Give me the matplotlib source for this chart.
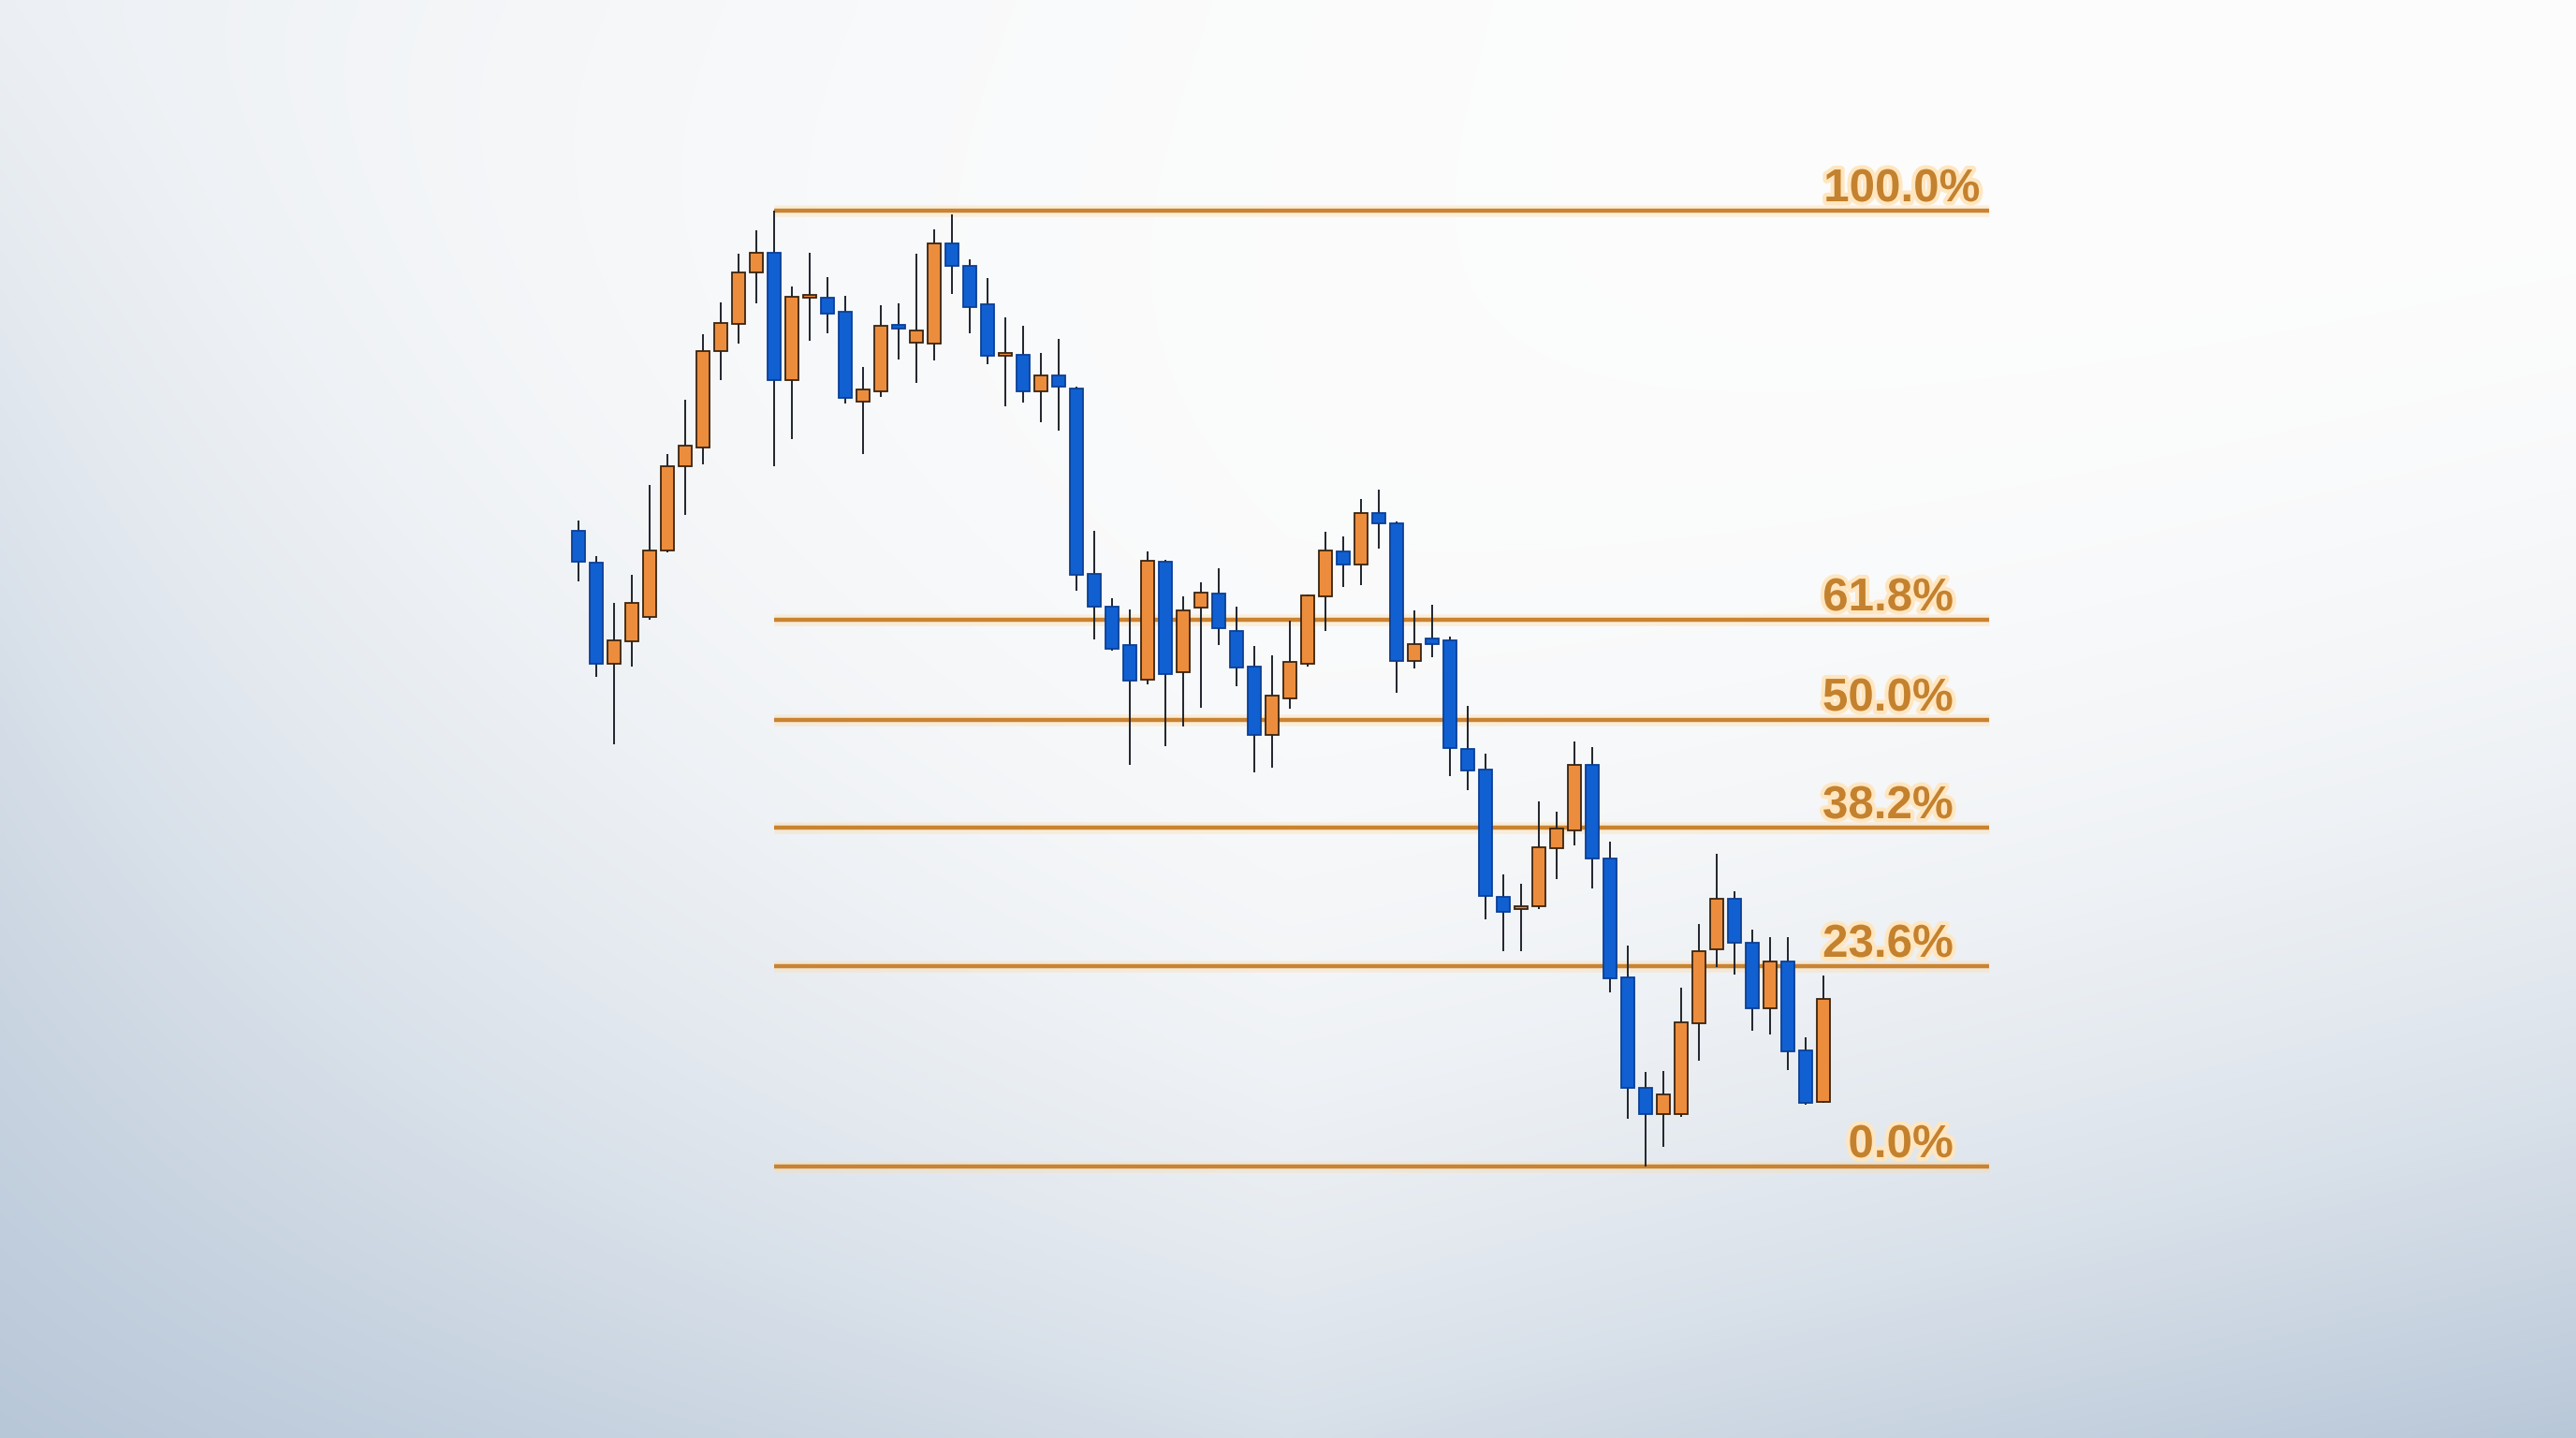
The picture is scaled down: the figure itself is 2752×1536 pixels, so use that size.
import numpy as np
import matplotlib.pyplot as plt
import matplotlib.patheffects as pe

# candle data (arbitrary price units), oldest first
opens = [96.9, 93.5, 82.7, 85.1, 87.7, 94.8, 103.8, 105.8, 116.1, 119.0,
         124.5, 126.6, 113.0, 121.8, 121.8, 120.3, 110.7, 111.8, 118.9, 117.0,
         116.9, 127.6, 125.2, 121.1, 115.6, 115.7, 111.8, 113.5, 112.1, 92.3,
         88.8, 84.7, 81.0, 93.6, 81.8, 88.7, 90.2, 86.2, 82.4, 75.1,
         79.0, 82.7, 89.9, 94.7, 93.3, 98.8, 97.7, 83.0, 85.4, 85.2,
         73.6, 71.4, 57.8, 56.5, 56.8, 63.0, 64.9, 71.9, 61.9, 49.2,
         37.4, 34.6, 34.6, 44.3, 52.2, 57.6, 52.9, 45.9, 50.9, 41.4,
         35.9]
highs = [98.0, 94.2, 89.2, 92.2, 101.8, 105.1, 110.9, 117.9, 121.3, 126.5,
         129.0, 131.1, 123.0, 126.6, 124.0, 122.0, 114.4, 121.0, 121.2, 126.5,
         129.1, 130.7, 125.9, 123.9, 119.7, 118.8, 115.9, 117.4, 112.3, 96.9,
         89.7, 88.5, 94.7, 93.8, 89.9, 91.4, 92.9, 88.8, 84.6, 83.6,
         87.3, 90.1, 96.8, 96.3, 100.3, 101.3, 97.9, 88.4, 89.0, 85.6,
         78.2, 73.1, 60.2, 59.2, 68.0, 66.9, 74.4, 73.8, 63.7, 52.6,
         39.1, 39.2, 48.1, 54.9, 62.4, 58.4, 54.3, 53.5, 53.5, 42.8,
         49.4]
lows = [91.5, 81.3, 74.1, 82.4, 87.4, 94.6, 98.6, 104.0, 113.0, 116.9,
        121.2, 103.8, 106.7, 117.2, 118.0, 110.5, 105.1, 111.2, 115.2, 112.7,
        115.1, 122.2, 118.0, 114.7, 110.2, 110.6, 108.5, 107.6, 90.5, 85.3,
        84.1, 71.9, 80.5, 73.9, 76.0, 78.0, 84.7, 80.3, 71.1, 71.6,
        77.9, 82.4, 86.2, 90.9, 91.1, 95.0, 79.6, 82.2, 83.4, 70.7,
        69.2, 55.4, 52.0, 52.0, 56.5, 59.7, 63.3, 58.7, 47.6, 34.1,
        29.0, 31.1, 34.3, 40.3, 50.3, 49.5, 43.5, 43.1, 39.3, 35.6,
        35.8]
closes = [93.6, 82.7, 85.2, 89.2, 94.8, 103.8, 106.0, 116.1, 119.1, 124.5,
          126.6, 113.0, 121.9, 121.9, 120.1, 111.1, 112.0, 118.8, 118.5, 118.3,
          127.6, 125.2, 120.8, 115.6, 115.7, 111.8, 113.5, 112.3, 92.2, 88.8,
          84.3, 80.9, 93.7, 81.6, 88.4, 90.3, 86.5, 82.3, 75.1, 79.3,
          82.9, 90.0, 94.8, 93.3, 98.8, 97.7, 83.0, 84.8, 84.8, 73.7,
          71.3, 57.9, 56.2, 56.7, 63.1, 65.1, 71.9, 61.9, 49.1, 37.4,
          34.6, 36.7, 44.4, 52.0, 57.6, 52.9, 45.9, 50.9, 41.3, 35.8,
          46.9]

# retracement levels as drawn
fib_labels = ["100.0%", "61.8%", "50.0%", "38.2%", "23.6%", "0.0%"]
fib_values = [131.1, 87.4, 76.7, 65.2, 50.4, 29.0]

blue = "#1160D2"
orange = "#EC8D3E"
fib_color = "#C98331"
text_color = "#C4812E"

fig = plt.figure(figsize=(27.52, 15.36), dpi=100)

# soft background gradient
H, W = 384, 688
v = np.linspace(0, 1, H)[:, None]
u = np.linspace(0, 1, W)[None, :]
p = 3.5 - 2.4 * np.clip(1 - 2 * u, 0, None) - 1.1 * np.clip(2 * u - 1, 0, None)
a = 0.55 + 0.45 * np.abs(2 * u - 1)
t = np.clip(a * v ** p + 0.25 * (1 - u) ** 3 * (1 - v), 0, 1)
c0 = np.array([253, 253, 253]) / 255
c1 = np.array([184, 199, 216]) / 255
img = c0 + (c1 - c0) * t[..., None]
bg = fig.add_axes([0, 0, 1, 1])
bg.imshow(img, aspect="auto", extent=[0, 1, 0, 1], interpolation="bicubic")
bg.axis("off")

ax = fig.add_axes([0, 0, 1, 1])
ax.set_facecolor("none")
ax.axis("off")

n = len(opens)
x = np.arange(n)
o = np.array(opens)
c = np.array(closes)
up = c >= o

# wicks
ax.vlines(x, lows, highs, color="#20242c", linewidth=1.4, zorder=3)

# bodies
bottoms = np.minimum(o, c)
heights = np.maximum(np.abs(c - o), 0.35)
colors = np.where(up, orange, blue)
edges = np.where(up, "#3a2410", "#0b3f96")
ax.bar(x, heights, bottom=bottoms, width=0.72, color=colors,
       edgecolor=edges, linewidth=1.3, zorder=4)

# fibonacci lines from the swing high to past the last candle
start = int(np.argmax(highs))
end = n - 1 + 9.3
glow = [pe.Stroke(linewidth=9, foreground="#FFD9A0", alpha=0.35), pe.Normal()]
for lab, val in zip(fib_labels, fib_values):
    ax.plot([start, end], [val, val], color=fib_color, linewidth=3.2,
            solid_capstyle="butt", zorder=2, path_effects=glow)
    tx = n - 1 + (8.8 if lab == "100.0%" else 7.3)
    ax.text(tx, val + 1.0, lab, ha="right", va="baseline",
            fontsize=35.5, fontweight="bold", color=text_color,
            family=["Liberation Sans", "DejaVu Sans"], zorder=5,
            path_effects=[pe.withStroke(linewidth=6, foreground="#FFE6C0")])

# map data to the canvas
ax.set_xlim(-618 / 19.0, (2752 - 618) / 19.0)
ax.set_ylim(0, 153.6)

fig.savefig("out.png", dpi=100)
